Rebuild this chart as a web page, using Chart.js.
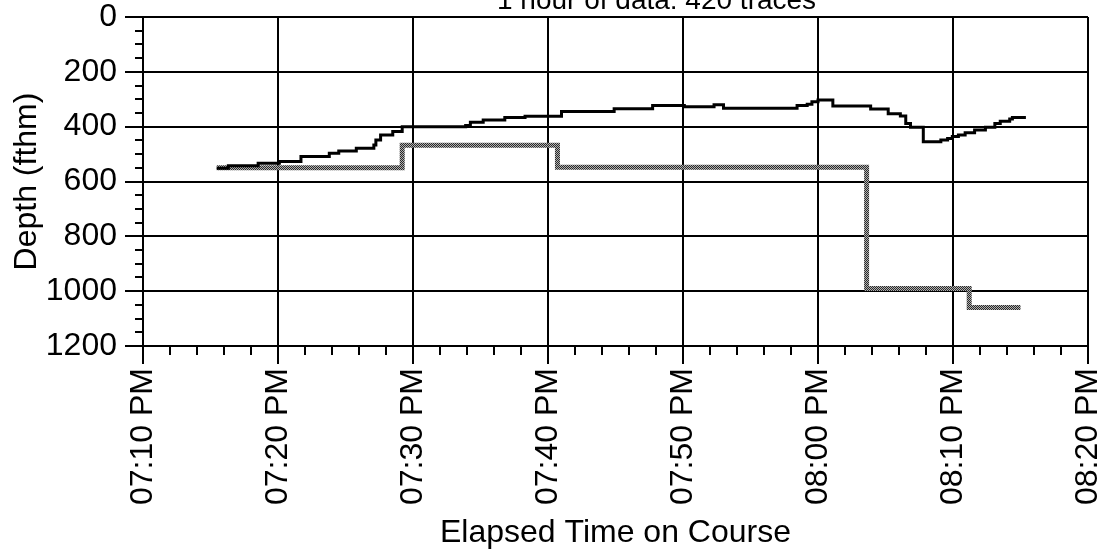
<!DOCTYPE html>
<html>
<head>
<meta charset="utf-8">
<script src="https://cdn.jsdelivr.net/npm/chart.js@4.4.1/dist/chart.umd.min.js"></script>
<style>
  html, body { margin: 0; padding: 0; background: #fff; }
  #wrap { width: 1109px; height: 552px; position: relative; }
</style>
</head>
<body>
<div id="wrap"><canvas id="c" width="1109" height="552"></canvas></div>
<script>
// ---- data (minutes after 07:10 PM, depth in fathoms) ----
const titleText = "1 hour of data: 420 traces";
const xTickLabels = ["07:10 PM", "07:20 PM", "07:30 PM", "07:40 PM", "07:50 PM", "08:00 PM", "08:10 PM", "08:20 PM"];
const yTickLabels = ["0", "200", "400", "600", "800", "1000", "1200"];

const blackT = [5.46, 6.32, 8.53, 10.1, 11.7, 13.8, 14.5, 15.8, 17.1, 17.25, 17.6, 18.5, 19.2, 23.9, 24.25, 25.2, 26.8, 28.3, 31.0, 34.9, 37.75, 40.1, 42.3, 43.0, 48.45, 49.2, 49.55, 50.0, 51.1, 53.9, 55.2, 56.1, 56.5, 56.85, 57.8, 59.1, 59.6, 59.95, 60.4, 60.9, 61.6, 62.4, 63.1, 63.5, 64.2, 64.4, 65.4];
const blackV = [552, 543, 533, 527, 509, 497, 489, 479, 467, 449, 430, 418, 400, 396, 384, 376, 367, 362, 345, 335, 323, 327, 320, 333, 323, 318, 309, 303, 325, 336, 353, 361, 388, 402, 455, 449, 443, 436, 430, 422, 412, 402, 388, 380, 372, 367, 367];

const grayT = [5.46, 19.2, 30.7, 53.6, 61.2, 65.0];
const grayV = [550, 468, 548, 990, 1060, 1060];

// ---- helpers ----
const toPts = (ts, vs) => ts.map((t, i) => ({ x: t, y: vs[i] }));

function grayPattern() {
  const p = document.createElement('canvas');
  p.width = 2; p.height = 2;
  const g = p.getContext('2d');
  g.fillStyle = '#b0b0b0'; g.fillRect(0, 0, 2, 2);
  g.fillStyle = '#2a2a2a'; g.fillRect(0, 0, 1, 1); g.fillRect(1, 1, 1, 1);
  return g.createPattern(p, 'repeat');
}

const FONT = "'Liberation Sans', Arial, Helvetica, sans-serif";

const extras = {
  id: 'extras',
  afterDraw(chart) {
    const ctx = chart.ctx;
    const xs = chart.scales.x, ys = chart.scales.y;
    const a = chart.chartArea;
    ctx.save();
    ctx.strokeStyle = '#000';
    ctx.lineWidth = 2;
    ctx.beginPath();
    for (let t = 0; t <= 70; t += 2) {
      if (t % 10 === 0) continue;
      const px = Math.round(xs.getPixelForValue(t));
      ctx.moveTo(px, a.bottom);
      ctx.lineTo(px, a.bottom + 9);
    }
    for (let v = 0; v <= 1200; v += 50) {
      if (v % 200 === 0) continue;
      const py = Math.round(ys.getPixelForValue(v));
      ctx.moveTo(a.left - 8, py);
      ctx.lineTo(a.left + 1, py);
    }
    ctx.stroke();
    // partially cut-off title at the very top
    ctx.fillStyle = '#000';
    ctx.font = "28px " + FONT;
    ctx.textBaseline = 'alphabetic';
    ctx.textAlign = 'left';
    ctx.fillText(titleText, 497, 9);
    ctx.restore();
  }
};

new Chart(document.getElementById('c'), {
  type: 'line',
  data: {
    datasets: [
      {
        label: 'black',
        data: toPts(blackT, blackV),
        borderColor: '#000',
        borderWidth: 3,
        stepped: 'before',
        pointRadius: 0,
        fill: false
      },
      {
        label: 'gray',
        data: toPts(grayT, grayV),
        borderColor: grayPattern(),
        borderWidth: 5,
        stepped: 'before',
        pointRadius: 0,
        fill: false
      }
    ]
  },
  options: {
    responsive: false,
    animation: false,
    events: [],
    layout: { padding: { left: 8, right: 0, top: 0, bottom: 0 } },
    plugins: { legend: { display: false }, tooltip: { enabled: false }, title: { display: false } },
    scales: {
      x: {
        type: 'linear',
        min: 0, max: 70,
        afterFit: (s) => { s.height = 206; s.paddingRight = 21; s.paddingLeft = 0; },
        ticks: {
          stepSize: 10,
          autoSkip: false,
          minRotation: 90, maxRotation: 90,
          padding: 4,
          color: '#000',
          font: { family: FONT, size: 32, lineHeight: 1.0 },
          callback: (v) => xTickLabels[Math.round(v / 10)]
        },
        grid: { color: '#000', lineWidth: 2, tickLength: 18, tickColor: '#000', tickWidth: 2 },
        border: { color: '#000', width: 2 },
        title: { display: true, text: 'Elapsed Time on Course', color: '#000', font: { family: FONT, size: 32 }, padding: { top: 0, bottom: 0 } }
      },
      y: {
        type: 'linear',
        reverse: true,
        min: 0, max: 1200,
        afterFit: (s) => { s.width = 135; s.paddingTop = 17; s.paddingBottom = 0; },
        ticks: {
          stepSize: 200,
          padding: 8,
          color: '#000',
          font: { family: FONT, size: 32, lineHeight: 1.0 },
          callback: (v) => yTickLabels[Math.round(v / 200)]
        },
        grid: { color: '#000', lineWidth: 2, tickLength: 18, tickColor: '#000', tickWidth: 2 },
        border: { color: '#000', width: 2 },
        title: { display: true, text: 'Depth (fthm)', color: '#000', font: { family: FONT, size: 32 }, padding: { top: 0, bottom: 0 } }
      }
    }
  },
  plugins: [extras]
});
</script>
</body>
</html>
